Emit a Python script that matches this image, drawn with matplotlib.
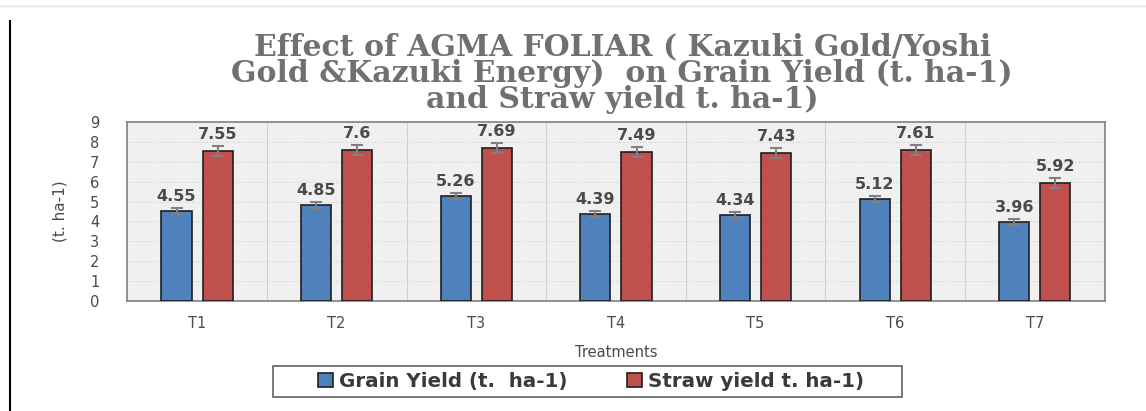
import numpy as np
import matplotlib.pyplot as plt
from matplotlib.lines import Line2D
from matplotlib.patches import Rectangle

treatments = ['T1', 'T2', 'T3', 'T4', 'T5', 'T6', 'T7']
grain = [4.55, 4.85, 5.26, 4.39, 4.34, 5.12, 3.96]
straw = [7.55, 7.6, 7.69, 7.49, 7.43, 7.61, 5.92]
grain_err = [0.15, 0.15, 0.15, 0.15, 0.15, 0.15, 0.15]
straw_err = [0.25, 0.25, 0.25, 0.25, 0.25, 0.25, 0.25]

blue = '#4F81BD'
red = '#C0504D'
txt = '#4a4a4a'

fig = plt.figure(figsize=(11.46, 4.11), dpi=100)
ax = fig.add_axes([0.111, 0.2676, 0.853, 0.4355])
ax.set_facecolor('#f0f0f0')

x = np.arange(len(treatments))
w = 0.215
off = 0.147
ekw = dict(ecolor='#808080', capsize=4, elinewidth=1.5, capthick=1.5)
b1 = ax.bar(x - off, grain, w, color=blue, edgecolor='#1f1f1f', linewidth=1.2,
            yerr=grain_err, error_kw=ekw, zorder=3, label='Grain Yield (t.  ha-1)')
b2 = ax.bar(x + off, straw, w, color=red, edgecolor='#1f1f1f', linewidth=1.2,
            yerr=straw_err, error_kw=ekw, zorder=3, label='Straw yield t. ha-1)')

for xi, v, e in zip(x - off, grain, grain_err):
    ax.text(xi, v + e + 0.2, f'{v:g}', ha='center', va='bottom', fontsize=11.5,
            fontweight='bold', color=txt)
for xi, v, e in zip(x + off, straw, straw_err):
    ax.text(xi, v + e + 0.2, f'{v:g}', ha='center', va='bottom', fontsize=11.5,
            fontweight='bold', color=txt)

ax.set_xlim(-0.5, len(treatments) - 0.5)
ax.set_ylim(0, 9)
ax.set_yticks(range(10))
ax.set_xticks(x)
ax.set_xticklabels(treatments)
ax.tick_params(axis='both', length=0, labelsize=10.5, labelcolor=txt)
ax.tick_params(axis='x', pad=11)
ax.tick_params(axis='y', pad=20)
for yv in range(1, 9):
    ax.axhline(yv, color='#d0d0d0', lw=0.8, ls=':', zorder=1)
for xv in np.arange(0.5, len(treatments) - 0.5):
    ax.axvline(xv, color='#d0d0d0', lw=0.8, zorder=1)
for s in ax.spines.values():
    s.set_color('#808080')
    s.set_linewidth(1.2)

ax.set_xlabel('Treatments', fontsize=10.5, color=txt, labelpad=10)
ax.set_ylabel('(t. ha-1)', fontsize=11, color=txt, labelpad=16)

fig.text(0.543, 0.722,
         'Effect of AGMA FOLIAR ( Kazuki Gold/Yoshi\nGold &Kazuki Energy)  on Grain Yield (t. ha-1)\nand Straw yield t. ha-1)',
         ha='center', va='bottom', fontsize=21.5, fontweight='bold', color='#707070',
         family='DejaVu Serif', linespacing=0.9)

# legend frame drawn separately so its width matches the reference
fig.add_artist(Rectangle((273 / 1146, 14 / 411), 629 / 1146, 31 / 411,
                         transform=fig.transFigure, facecolor='white',
                         edgecolor='#606060', lw=1.2))
leg = fig.legend(handles=[b1, b2], loc='center', bbox_to_anchor=(0.5157, 0.0718),
                 ncol=2, fontsize=14.3, frameon=False, handlelength=0.75,
                 handleheight=0.75, handletextpad=0.3, columnspacing=3.0)
for t in leg.get_texts():
    t.set_color('#3a3a3a')
    t.set_fontweight('bold')

fig.add_artist(Line2D([0.009, 0.009], [0, 0.95], color='black', lw=1.5))
fig.add_artist(Line2D([0, 1], [0.985, 0.985], color='#e0e0e0', lw=1))

fig.savefig('out.png', dpi=100)
